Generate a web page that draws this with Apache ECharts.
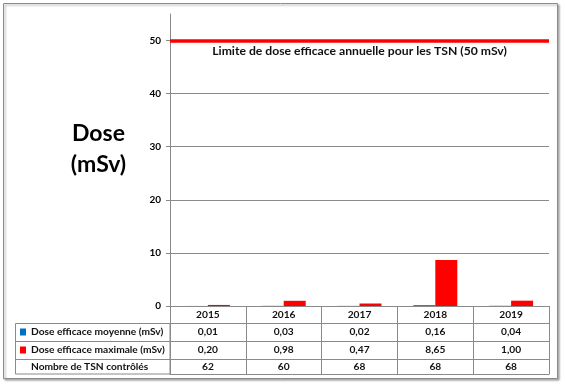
<!DOCTYPE html>
<html>
<head>
<meta charset="utf-8">
<script src="https://cdn.jsdelivr.net/npm/echarts@6/dist/echarts.min.js"></script>
<style>
html,body{margin:0;padding:0;background:#fff;}
#chart{width:565px;height:384px;}
</style>
</head>
<body>
<div id="chart"></div>
<script>
// ---- data ----
const years = ['2015', '2016', '2017', '2018', '2019'];
const doseMoyenne = [0.01, 0.03, 0.02, 0.16, 0.04];
const doseMaximale = [0.20, 0.98, 0.47, 8.65, 1.00];
const nombreTSN = [62, 60, 68, 68, 68];
const yTicks = [0, 10, 20, 30, 40, 50];
const limitValue = 50;
const limitLabel = 'Limite de dose efficace annuelle pour les TSN (50 mSv)';
const seriesNames = ['Dose efficace moyenne (mSv)', 'Dose efficace maximale (mSv)'];
const rowLabel3 = 'Nombre de TSN contrôlés';
const yTitle = ['Dose', '(mSv)'];

const fmt = v => v.toFixed(2).replace('.', ',');
const FONT = 'Lato';
const GRID_COL = '#8a8a8a';
const TW = 'bold';
const TS = 10.2;

const chart = echarts.init(document.getElementById('chart'), null, {renderer: 'canvas'});

const tableAxis = (data, offset, lh, showLabel) => ({
  type: 'category',
  data: data,
  position: 'bottom',
  offset: offset,
  axisLine: {show: true, lineStyle: {color: GRID_COL, width: 1}},
  axisTick: {show: false},
  splitLine: {show: false},
  axisLabel: {
    show: showLabel, interval: 0, margin: 0,
    color: '#111', fontFamily: FONT, fontWeight: TW, fontSize: TS, lineHeight: lh
  }
});

const option = {
  backgroundColor: '#fff',
  animation: false,
  textStyle: {fontFamily: FONT},
  grid: {left: 170, right: 16, top: 14, bottom: 78, containLabel: false},
  legend: {
    data: seriesNames,
    orient: 'vertical',
    left: 20, top: 325,
    itemWidth: 6, itemHeight: 7, itemGap: 4,
    padding: 0,
    selectedMode: false,
    icon: 'rect',
    textStyle: {fontFamily: FONT, fontWeight: TW, fontSize: TS, lineHeight: 14, color: '#111'}
  },
  xAxis: [
    {
      type: 'category',
      data: years,
      position: 'bottom',
      axisLine: {show: true, lineStyle: {color: GRID_COL, width: 1}},
      axisTick: {show: true, alignWithLabel: false, interval: 0, length: 68, lineStyle: {color: GRID_COL}},
      splitLine: {show: false},
      axisLabel: {interval: 0, margin: 0, color: '#111', fontFamily: FONT, fontWeight: TW, fontSize: TS, lineHeight: 17}
    },
    tableAxis(doseMoyenne.map(fmt), 17, 18, true),
    tableAxis(doseMaximale.map(fmt), 35, 18, true),
    tableAxis(nombreTSN.map(String), 53, 15, true),
    tableAxis(years, 68, 10, false)
  ],
  yAxis: {
    type: 'value',
    min: 0, max: 55, interval: 10,
    axisLine: {show: true, lineStyle: {color: GRID_COL, width: 1}},
    axisTick: {show: true, length: 4, inside: false, lineStyle: {color: GRID_COL}, customValues: yTicks},
    axisLabel: {
      margin: 9, color: '#000', fontFamily: FONT, fontWeight: 'bold', fontSize: 10,
      customValues: yTicks
    },
    splitLine: {show: true, showMinLine: false, showMaxLine: false, lineStyle: {color: GRID_COL, width: 1}}
  },
  series: [
    {
      name: seriesNames[0], type: 'bar', xAxisIndex: 0,
      data: doseMoyenne, barWidth: 22, barGap: '0%',
      itemStyle: {color: '#0070C0'}
    },
    {
      name: seriesNames[1], type: 'bar', xAxisIndex: 0,
      data: doseMaximale, barWidth: 22, barGap: '0%',
      itemStyle: {color: '#FF0000'},
      markLine: {
        silent: true, symbol: 'none',
        lineStyle: {color: '#FF0000', width: 3.5, type: 'solid'},
        label: {
          show: true, position: 'insideMiddleBottom', distance: 5,
          formatter: limitLabel,
          color: '#111', fontFamily: FONT, fontWeight: 'bold', fontSize: 12.2
        },
        data: [{yAxis: limitValue}]
      }
    }
  ],
  graphic: [
    {
      type: 'rect', z: -10, silent: true,
      shape: {x: 3.5, y: 3.5, width: 554, height: 375},
      style: {fill: '#fff', stroke: '#8c8c8c', lineWidth: 1,
        shadowBlur: 2, shadowOffsetX: 1.5, shadowOffsetY: 1.5, shadowColor: 'rgba(0,0,0,0.35)'}
    },
    {
      type: 'rect', silent: true,
      shape: {x: 15.5, y: 323.5, width: 154.5, height: 50.5},
      style: {fill: 'none', stroke: GRID_COL, lineWidth: 1}
    },
    {
      type: 'line', silent: true,
      shape: {x1: 15.5, y1: 341.5, x2: 170, y2: 341.5},
      style: {stroke: GRID_COL, lineWidth: 1}
    },
    {
      type: 'line', silent: true,
      shape: {x1: 15.5, y1: 359.5, x2: 170, y2: 359.5},
      style: {stroke: GRID_COL, lineWidth: 1}
    },
    {
      type: 'text', silent: true, x: 31, y: 367,
      style: {text: rowLabel3, fill: '#111', font: TW + ' ' + TS + 'px ' + FONT, verticalAlign: 'middle', align: 'left'}
    },
    {
      type: 'text', silent: true, x: 98.5, y: 134,
      style: {text: yTitle[0], fill: '#000', font: 'bold 23px ' + FONT, verticalAlign: 'middle', align: 'center'}
    },
    {
      type: 'text', silent: true, x: 98.5, y: 165,
      style: {text: yTitle[1], fill: '#000', font: 'bold 23px ' + FONT, verticalAlign: 'middle', align: 'center'}
    }
  ]
};

chart.setOption(option);
</script>
</body>
</html>
